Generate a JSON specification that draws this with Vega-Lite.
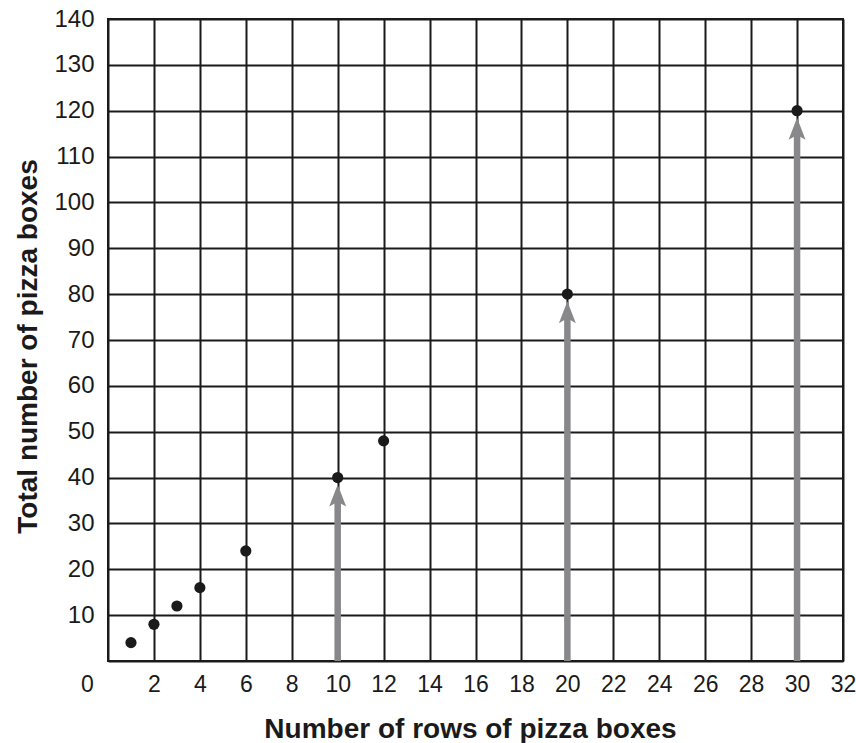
{
  "$schema": "https://vega.github.io/schema/vega-lite/v6.json",
  "width": 735,
  "height": 642,
  "autosize": {"type": "none"},
  "padding": {"left": 108, "top": 19, "right": 13, "bottom": 82},
  "background": "white",
  "config": {
    "view": {"stroke": "#1a1a1a", "strokeWidth": 2},
    "font": "Liberation Sans"
  },
  "datasets": {
    "points": [
      {"rows": 1, "boxes": 4},
      {"rows": 2, "boxes": 8},
      {"rows": 3, "boxes": 12},
      {"rows": 4, "boxes": 16},
      {"rows": 6, "boxes": 24},
      {"rows": 10, "boxes": 40},
      {"rows": 12, "boxes": 48},
      {"rows": 20, "boxes": 80},
      {"rows": 30, "boxes": 120}
    ],
    "arrows": [
      {"rows": 10, "boxes": 40, "base": 0},
      {"rows": 20, "boxes": 80, "base": 0},
      {"rows": 30, "boxes": 120, "base": 0}
    ]
  },
  "encoding": {
    "x": {
      "field": "rows",
      "type": "quantitative",
      "scale": {"domain": [0, 32], "nice": false, "zero": true},
      "axis": {
        "values": [0, 2, 4, 6, 8, 10, 12, 14, 16, 18, 20, 22, 24, 26, 28, 30, 32],
        "title": "Number of rows of pizza boxes",
        "titleFontSize": 28,
        "titleFontWeight": "bold",
        "titleColor": "#1a1a1a",
        "titleX": 362,
        "titleY": 76,
        "titleBaseline": "alphabetic",
        "titleAlign": "center",
        "labelFontSize": 23,
        "labelColor": "#1a1a1a",
        "labelPadding": 12,
        "labelOffset": {"condition": {"test": "datum.value === 0", "value": -21}, "value": 0},
        "labelFlush": false,
        "labelOverlap": false,
        "ticks": false,
        "tickSize": 0,
        "domain": false,
        "grid": true,
        "gridColor": "#1a1a1a",
        "gridWidth": 2,
        "gridOpacity": 1
      }
    },
    "y": {
      "field": "boxes",
      "type": "quantitative",
      "scale": {"domain": [0, 140], "nice": false, "zero": true},
      "axis": {
        "values": [0, 10, 20, 30, 40, 50, 60, 70, 80, 90, 100, 110, 120, 130, 140],
        "labelExpr": "datum.value === 0 ? '' : datum.label",
        "title": "Total number of pizza boxes",
        "titleFontSize": 28,
        "titleFontWeight": "bold",
        "titleColor": "#1a1a1a",
        "titleX": -72,
        "titleY": 327,
        "titleAngle": -90,
        "titleBaseline": "alphabetic",
        "titleAlign": "center",
        "labelFontSize": 24,
        "labelColor": "#1a1a1a",
        "labelPadding": 14,
        "labelFlush": false,
        "labelOverlap": false,
        "ticks": false,
        "tickSize": 0,
        "domain": false,
        "grid": true,
        "gridColor": "#1a1a1a",
        "gridWidth": 2,
        "gridOpacity": 1
      }
    }
  },
  "layer": [
    {
      "data": {"name": "arrows"},
      "mark": {"type": "rule", "color": "#88888b", "strokeWidth": 6.5, "yOffset": 20},
      "encoding": {
        "y2": {"field": "base"}
      }
    },
    {
      "data": {"name": "arrows"},
      "mark": {
        "type": "point",
        "shape": "M0,-1L0.77,1L0.27,0.72L-0.27,0.72L-0.77,1Z",
        "filled": true,
        "color": "#88888b",
        "opacity": 1,
        "size": 484,
        "yOffset": 18,
        "strokeWidth": 0
      },
      "encoding": {}
    },
    {
      "data": {"name": "points"},
      "mark": {"type": "circle", "color": "#1a1a1a", "opacity": 1, "size": 125},
      "encoding": {}
    }
  ]
}
